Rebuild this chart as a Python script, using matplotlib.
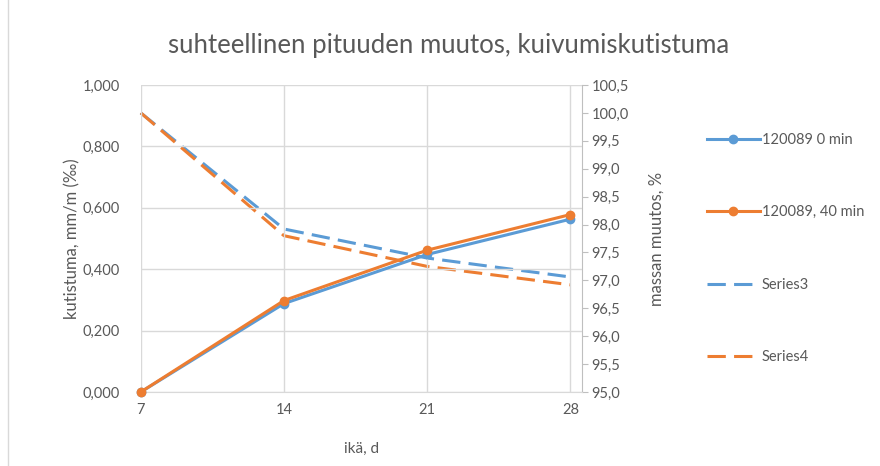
import matplotlib
matplotlib.use("Agg")
import matplotlib.pyplot as plt
from matplotlib.lines import Line2D
from matplotlib.patches import Rectangle

plt.rcParams['font.family'] = ['Lato', 'DejaVu Sans']

days = [7, 14, 21, 28]
shrink_0min = [0.000, 0.288, 0.448, 0.563]
shrink_40min = [0.000, 0.298, 0.462, 0.578]
mass_s3 = [100.0, 97.92, 97.40, 97.06]
mass_s4 = [100.0, 97.80, 97.25, 96.92]
labels = ["120089 0 min", "120089, 40 min", "Series3", "Series4"]
title = "suhteellinen pituuden muutos, kuivumiskutistuma"

blue = "#5B9BD5"
orange = "#ED7D31"
txt = "#595959"
grid = "#D9D9D9"

fig = plt.figure(figsize=(8.8, 4.66), dpi=100)
ax = fig.add_axes([0.160, 0.1588, 0.501, 0.6588])
ax2 = ax.twinx()

l1, = ax.plot(days, shrink_0min, color=blue, lw=2.2, marker='o', ms=6, zorder=3, clip_on=False)
l2, = ax.plot(days, shrink_40min, color=orange, lw=2.2, marker='o', ms=6, zorder=3, clip_on=False)
l3, = ax2.plot(days, mass_s3, color=blue, lw=2.2, dashes=(6, 2.7), clip_on=False)
l4, = ax2.plot(days, mass_s4, color=orange, lw=2.2, dashes=(6, 2.7), clip_on=False)
ax.set_zorder(ax2.get_zorder() + 1)
ax.patch.set_visible(False)

ax.set_xlim(7, 28.55)
ax.set_xticks(days)
ax.set_ylim(0, 1.0)
lt = [0, 0.2, 0.4, 0.6, 0.8, 1.0]
ax.set_yticks(lt)
ax.set_yticklabels([f"{v:.3f}".replace('.', ',') for v in lt])
ax2.set_ylim(95, 100.5)
rt = [95 + 0.5 * i for i in range(12)]
ax2.set_yticks(rt)
ax2.set_yticklabels([f"{v:.1f}".replace('.', ',') for v in rt])

ax.grid(True, color=grid, lw=1)
for a in (ax, ax2):
    for s in a.spines.values():
        s.set_visible(False)
ax.spines['bottom'].set_visible(True)
ax.spines['bottom'].set_color(grid)
ax2.spines['right'].set_visible(True)
ax2.spines['right'].set_color("#BFBFBF")

ax.tick_params(axis='y', length=0, colors=txt, labelsize=10.5, pad=15)
ax.tick_params(axis='x', length=0, colors=txt, labelsize=10.5, pad=8)
ax2.tick_params(axis='y', length=4, color="#BFBFBF", labelcolor=txt, labelsize=10.5, pad=3)

ax.set_xlabel("ikä, d", color=txt, fontsize=11, labelpad=18)
ax.set_ylabel("kutistuma, mm/m (‰)", color=txt, fontsize=12, labelpad=2)
ax2.set_ylabel("massan muutos, %", color=txt, fontsize=12, labelpad=14)

fig.text(0.51, 0.903, title, ha='center', va='center', color=txt, fontsize=18.5)

handles = [Line2D([], [], color=blue, lw=2.2, marker='o', ms=6),
           Line2D([], [], color=orange, lw=2.2, marker='o', ms=6),
           Line2D([], [], color=blue, lw=2.2, dashes=(6, 2.7)),
           Line2D([], [], color=orange, lw=2.2, dashes=(6, 2.7))]
fig.legend(handles, labels, loc='upper left', bbox_to_anchor=(0.797, 0.727),
           frameon=False, fontsize=10.5, labelcolor=txt, handlelength=3.6,
           handletextpad=0.15, labelspacing=4.0, borderaxespad=0)

fig.patches.append(Rectangle((0.009, -0.01), 1.2, 1.2, transform=fig.transFigure,
                             fill=False, edgecolor="#D9D9D9", lw=1))

fig.savefig("out.png", dpi=100)
